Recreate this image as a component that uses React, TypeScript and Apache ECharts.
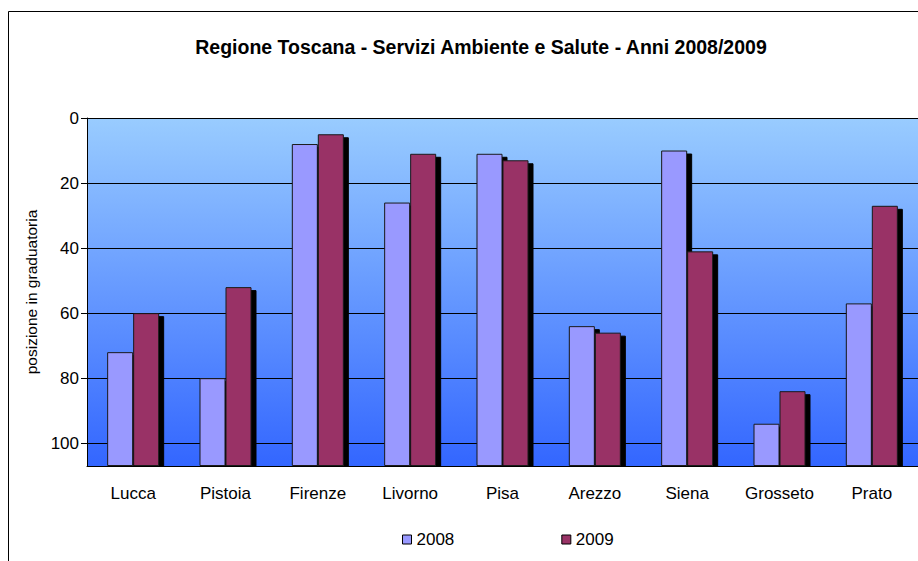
import React, { useEffect, useRef } from "react";
import * as echarts from "echarts";

const categories = ["Lucca", "Pistoia", "Firenze", "Livorno", "Pisa", "Arezzo", "Siena", "Grosseto", "Prato"];
const values2008 = [72, 80, 8, 26, 11, 64, 10, 94, 57];
const values2009 = [60, 52, 5, 11, 13, 66, 41, 84, 27];
const yTicks = [0, 20, 40, 60, 80, 100];
const axisBottom = 107;

const FONT = "'Liberation Sans', Arial, sans-serif";

export default function App() {
  const ref = useRef<HTMLDivElement>(null);
  useEffect(() => {
    if (!ref.current) return;
    const chart = echarts.init(ref.current, undefined, { renderer: "svg" });
    const shadow = { shadowColor: "#000", shadowOffsetX: 5, shadowOffsetY: 3, shadowBlur: 0 };
    const mk = (name: string, vals: number[], color: string) => [
      {
        name: name + "_base",
        type: "bar",
        stack: name,
        data: vals,
        barWidth: 26,
        barGap: "0%",
        itemStyle: { color: "transparent" },
        silent: true,
      },
      {
        name,
        type: "bar",
        stack: name,
        data: vals.map((v) => axisBottom - v),
        barWidth: 26,
        barGap: "0%",
        itemStyle: { color, borderColor: "#1a1a1a", borderWidth: 1, ...shadow },
      },
    ];
    chart.setOption({
      animation: false,
      textStyle: { fontFamily: FONT },
      title: {
        text: "Regione Toscana - Servizi Ambiente e Salute - Anni 2008/2009",
        left: 476,
        textAlign: "center",
        top: 32,
        textStyle: { fontSize: 19.5, fontWeight: "bold", color: "#000", fontFamily: FONT },
      },
      legend: {
        data: ["2008", "2009"],
        left: 397,
        top: 526,
        icon: "rect",
        itemWidth: 9,
        itemHeight: 9,
        itemGap: 107,
        textStyle: { fontSize: 17, color: "#000", fontFamily: FONT },
        itemStyle: { borderColor: "#000", borderWidth: 1, shadowBlur: 0, shadowOffsetX: 0, shadowOffsetY: 0, shadowColor: "transparent" },
      },
      grid: {
        left: 87,
        top: 118,
        right: -2,
        bottom: 95,
        show: true,
        borderWidth: 0,
        backgroundColor: new echarts.graphic.LinearGradient(0, 0, 0, 1, [
          { offset: 0, color: "#99CCFF" },
          { offset: 1, color: "#3366FF" },
        ]),
      },
      xAxis: {
        type: "category",
        data: categories,
        position: "bottom",
        z: 20,
        axisLine: { onZero: false, lineStyle: { color: "#000", width: 1 } },
        axisTick: { inside: true, length: 5, lineStyle: { color: "#1a2a6a" } },
        axisLabel: { fontSize: 17, color: "#000", margin: 19, fontFamily: FONT },
      },
      yAxis: {
        type: "value",
        inverse: true,
        min: 0,
        max: axisBottom,
        interval: 20,
        name: "posizione in graduatoria",
        nameLocation: "middle",
        nameGap: 44,
        nameTextStyle: { fontSize: 15.5, color: "#000", fontFamily: FONT },
        axisLine: { show: true, lineStyle: { color: "#000" } },
        axisTick: { show: true, length: 6, lineStyle: { color: "#000" } },
        axisLabel: {
          fontSize: 17,
          color: "#000",
          margin: 8,
          showMaxLabel: false,
          fontFamily: FONT,
          formatter: (v: number) => (yTicks.includes(v) ? String(v) : ""),
        },
        splitLine: { show: true, lineStyle: { color: "#000", width: 1 } },
      },
      graphic: [
        {
          type: "rect",
          shape: { x: 87, y: 467, width: 840, height: 5 },
          style: { fill: "#fff" },
          z: 90,
        },
        {
          type: "rect",
          shape: { x: 8.5, y: 11.5, width: 1000, height: 1000 },
          style: { fill: "none", stroke: "#000", lineWidth: 1 },
          z: 100,
        },
      ],
      series: [...mk("2008", values2008, "#9999FF"), ...mk("2009", values2009, "#993366")],
    });
    return () => chart.dispose();
  }, []);
  return <div ref={ref} style={{ position: "fixed", left: 0, top: 0, width: 918, height: 561, background: "#fff" }} />;
}
